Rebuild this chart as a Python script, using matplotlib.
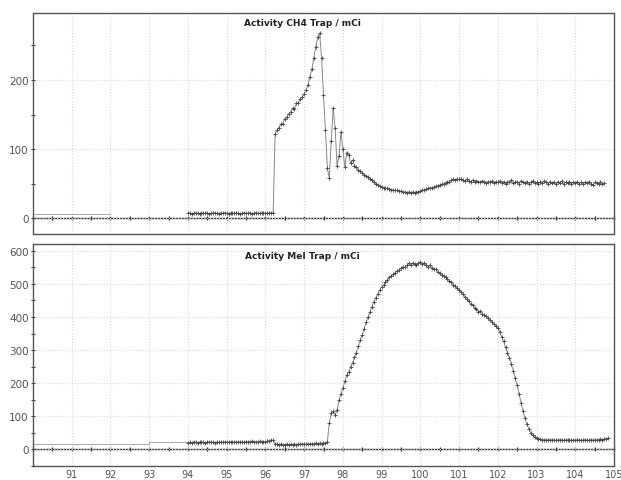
import numpy as np
import matplotlib
matplotlib.use('Agg')
import matplotlib.pyplot as plt
from matplotlib.ticker import MultipleLocator

# sample grid of the traces (one reading every 0.05 min)
ch4_x = np.arange(94.0, 104.76, 0.05)
ch4_y = [
    7, 8, 6, 7, 8, 7, 6, 8, 7, 7, 8, 6, 7, 8, 7, 7, 6, 8, 7, 8,
    7, 6, 8, 7, 7, 8, 7, 6, 7, 8, 7, 7, 8, 6, 7, 8, 7, 7, 8, 7,
    7, 8, 7, 8, 7, 122, 128, 131, 136, 137, 144, 146, 151, 153, 159, 158, 166, 167, 173, 175,
    180, 186, 193, 205, 216, 232, 248, 262, 268, 232, 178, 128, 72, 58, 112, 160, 130, 76, 90, 125,
    100, 74, 95, 92, 80, 84, 76, 74, 70, 68, 66, 63, 61, 60, 57, 55, 52, 50, 48, 46,
    45, 44, 43, 43, 42, 41, 41, 40, 40, 39, 39, 38, 38, 37, 38, 37, 38, 37, 38, 38,
    39, 40, 41, 42, 43, 44, 44, 45, 46, 47, 48, 49, 50, 51, 52, 53, 55, 56, 55, 57,
    56, 57, 55, 54, 56, 54, 53, 55, 52, 54, 53, 52, 54, 53, 51, 53, 52, 54, 51, 53,
    52, 54, 51, 53, 50, 53, 52, 55, 51, 52, 53, 50, 54, 52, 51, 53, 50, 52, 54, 51,
    52, 50, 53, 51, 54, 52, 50, 53, 51, 52, 49, 53, 51, 54, 50, 52, 51, 53, 50, 52,
    51, 53, 50, 52, 49, 52, 51, 53, 50, 48, 52, 51, 50, 53, 49, 51,
]
ch4_pre_x = [90, 92]
ch4_pre_y = [6, 6]

mei_x = np.arange(94.0, 104.86, 0.05)
mei_y = [
    20, 21, 20, 22, 21, 20, 21, 22, 21, 20, 22, 21, 22, 21, 20, 22, 21, 22, 21, 22,
    22, 21, 23, 22, 21, 23, 22, 23, 22, 21, 23, 22, 23, 24, 22, 23, 22, 24, 23, 22,
    23, 24, 26, 27, 27, 17, 15, 14, 15, 13, 14, 15, 14, 15, 13, 15, 14, 15, 16, 15,
    16, 15, 17, 16, 17, 16, 18, 17, 18, 17, 19, 18, 22, 80, 108, 114, 104, 118, 148, 168,
    185, 205, 224, 234, 248, 262, 278, 292, 312, 330, 346, 364, 384, 400, 416, 430, 446, 458, 470, 482,
    490, 497, 505, 512, 520, 524, 530, 534, 540, 542, 548, 552, 550, 556, 562, 558, 564, 560, 556, 562,
    566, 560, 563, 556, 552, 558, 548, 545, 544, 536, 533, 528, 523, 522, 514, 510, 505, 498, 495, 488,
    482, 476, 470, 462, 456, 448, 440, 436, 428, 424, 416, 418, 410, 406, 402, 398, 392, 386, 380, 372,
    366, 356, 340, 326, 308, 292, 276, 258, 238, 216, 194, 168, 140, 116, 94, 76, 62, 50, 42, 36,
    33, 31, 30, 29, 29, 28, 29, 28, 29, 28, 27, 28, 29, 28, 27, 28, 29, 28, 28, 27,
    28, 29, 28, 27, 28, 29, 28, 27, 29, 28, 28, 29, 28, 30, 29, 31, 32, 33,
]
mei_pre_x = [90, 93, 93, 94]
mei_pre_y = [15, 15, 22, 22]

x_ticks = list(range(91, 106))
titles = ['Activity CH4 Trap / mCi', 'Activity MeI Trap / mCi']

plt.rcParams['font.family'] = ['DejaVu Sans']
fig = plt.figure(figsize=(6.21, 4.81), dpi=100)
ax1 = fig.add_axes([33/621, 1-235/481, 581/621, 221/481])
ax2 = fig.add_axes([33/621, 1-467/481, 581/621, 222/481])

panels = [
    (ax1, ch4_pre_x, ch4_pre_y, ch4_x, ch4_y, (-23, 297), titles[0], 0.955),
    (ax2, mei_pre_x, mei_pre_y, mei_x, mei_y, (-51, 621), titles[1], 0.95),
]

for ax, px, py, x, y, ylim, title, ty in panels:
    ax.set_xlim(90, 105)
    ax.set_ylim(*ylim)
    ax.plot(px, py, color='#aaaaaa', lw=0.7)
    ax.plot(x, y, color='#888888', lw=0.7, marker='+', ms=2.2,
            mec='#444444', mew=0.6)
    # dotted grid
    ax.xaxis.set_major_locator(MultipleLocator(1))
    ax.yaxis.set_major_locator(MultipleLocator(100))
    ax.yaxis.set_minor_locator(MultipleLocator(50))
    ax.grid(True, which='major', color='#d8d8d8', ls=':', lw=0.8)
    ax.tick_params(axis='x', length=0, labelsize=7, labelcolor='#555555',
                   pad=2)
    ax.tick_params(axis='y', which='both', direction='inout', length=3,
                   width=0.8, color='#444444', labelsize=7.5,
                   labelcolor='#555555', pad=1.5)
    for s in ax.spines.values():
        s.set_color('#555555')
        s.set_linewidth(1.0)
    # zero line with half-unit ticks
    loc = (0 - ylim[0]) / (ylim[1] - ylim[0])
    zx = ax.secondary_xaxis(loc)
    zx.xaxis.set_major_locator(MultipleLocator(0.5))
    zx.tick_params(direction='inout', length=3, width=0.9, color='#333333',
                   labelbottom=False, labeltop=False)
    zx.spines['bottom'].set_color('#333333')
    zx.spines['top'].set_color('#333333')
    zx.spines['bottom'].set_linewidth(1.0)
    zx.spines['top'].set_linewidth(1.0)
    ax.text(0.463, ty, title, transform=ax.transAxes, ha='center',
            va='center', fontsize=6.5, fontweight='bold', color='#222222')

ax1.set_xticks(x_ticks)
ax1.tick_params(axis='x', labelbottom=False)
ax2.set_xticks(x_ticks)
ax2.set_xticklabels([str(t) for t in x_ticks])

fig.savefig('out.png', dpi=100)
